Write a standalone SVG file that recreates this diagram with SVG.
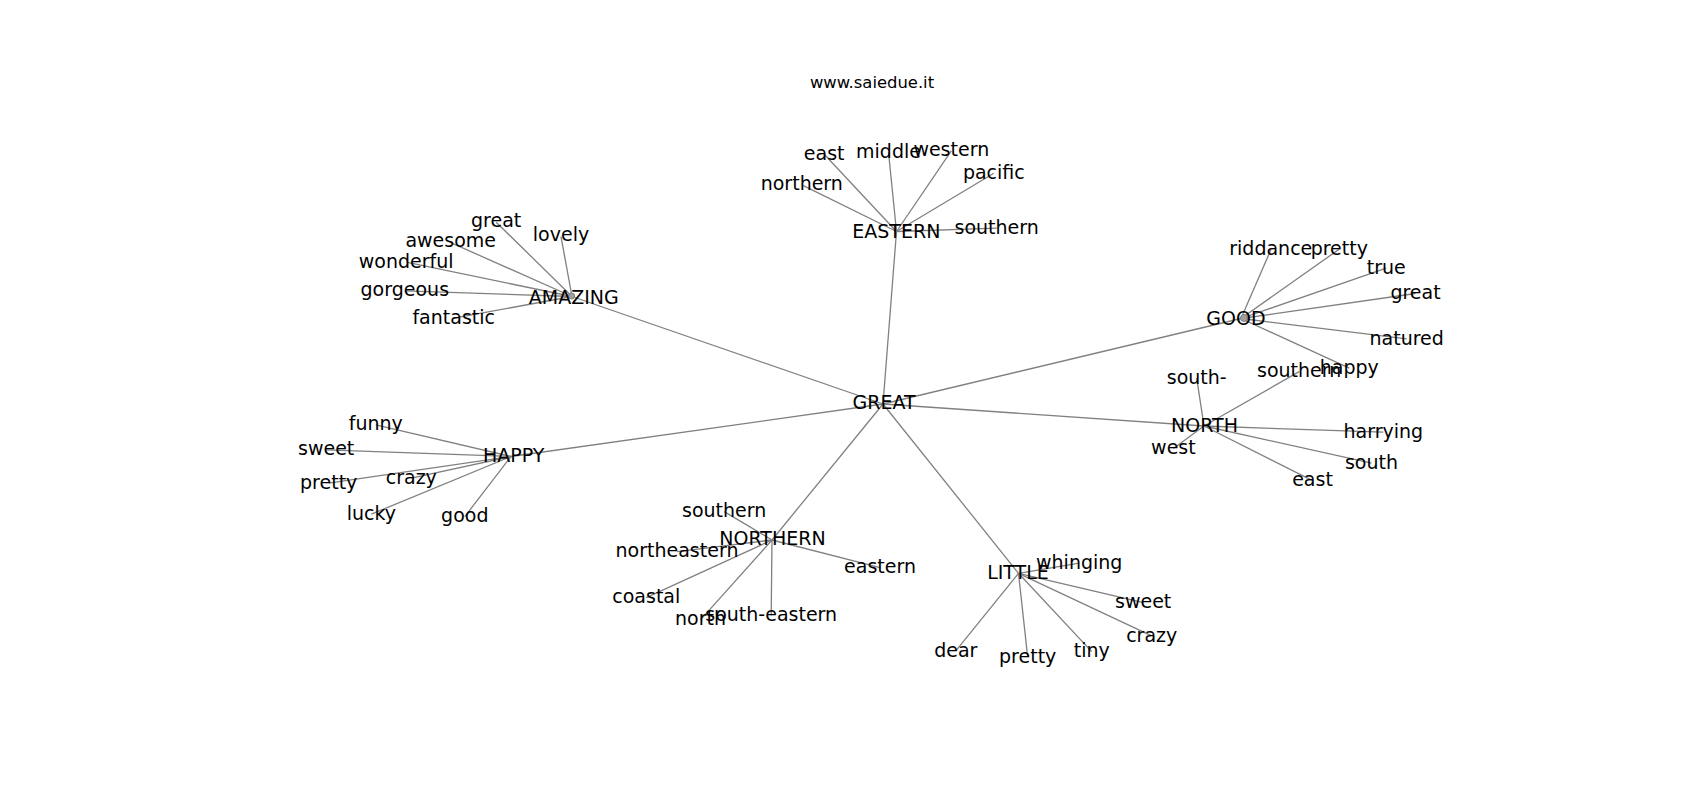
<svg xmlns="http://www.w3.org/2000/svg" width="1700" height="800" viewBox="0 0 1700 800">
<style>
text{font-family:"DejaVu Sans","Liberation Sans",sans-serif;font-size:19px;fill:#000;text-anchor:middle}
.title{font-size:16.4px}
#edges line{stroke:#808080;stroke-width:1.3}
.loop{fill:#a0a0a0;stroke:#808080;stroke-width:1}
</style>
<rect width="1700" height="800" fill="#fff"/>
<text class="title" x="872" y="88">www.saiedue.it</text>
<g id="edges">
<line x1="883" y1="404" x2="896.5" y2="231.5"/>
<line x1="883" y1="404" x2="572" y2="296.5"/>
<line x1="883" y1="404" x2="1241" y2="318.5"/>
<line x1="883" y1="404" x2="1204" y2="426"/>
<line x1="883" y1="404" x2="511" y2="456.5"/>
<line x1="883" y1="404" x2="772" y2="540"/>
<line x1="883" y1="404" x2="1018.5" y2="573.3"/>
<line x1="896.5" y1="231.5" x2="824.2" y2="154.2"/>
<line x1="896.5" y1="231.5" x2="888.5" y2="152.2"/>
<line x1="896.5" y1="231.5" x2="951.3" y2="150.9"/>
<line x1="896.5" y1="231.5" x2="801.8" y2="184.9"/>
<line x1="896.5" y1="231.5" x2="993.8" y2="173.2"/>
<line x1="896.5" y1="231.5" x2="996.7" y2="228.2"/>
<line x1="572" y1="296.5" x2="496.2" y2="222.2"/>
<line x1="572" y1="296.5" x2="561" y2="236.6"/>
<line x1="572" y1="296.5" x2="450.7" y2="242.6"/>
<line x1="572" y1="296.5" x2="406.2" y2="262.2"/>
<line x1="572" y1="296.5" x2="404.8" y2="290.9"/>
<line x1="572" y1="296.5" x2="453.7" y2="318.2"/>
<line x1="1241" y1="318.5" x2="1270.8" y2="249.9"/>
<line x1="1241" y1="318.5" x2="1339.3" y2="249.1"/>
<line x1="1241" y1="318.5" x2="1386.2" y2="268.2"/>
<line x1="1241" y1="318.5" x2="1415.5" y2="293.5"/>
<line x1="1241" y1="318.5" x2="1406.7" y2="338.9"/>
<line x1="1241" y1="318.5" x2="1349.3" y2="368.2"/>
<line x1="1204" y1="426" x2="1196.7" y2="378.2"/>
<line x1="1204" y1="426" x2="1299.2" y2="371.6"/>
<line x1="1204" y1="426" x2="1173.4" y2="448.6"/>
<line x1="1204" y1="426" x2="1383.3" y2="432.2"/>
<line x1="1204" y1="426" x2="1371.5" y2="463.2"/>
<line x1="1204" y1="426" x2="1312.5" y2="480.6"/>
<line x1="511" y1="456.5" x2="375.8" y2="424.9"/>
<line x1="511" y1="456.5" x2="326.2" y2="449.9"/>
<line x1="511" y1="456.5" x2="328.7" y2="483.2"/>
<line x1="511" y1="456.5" x2="411.3" y2="478.2"/>
<line x1="511" y1="456.5" x2="371.3" y2="514.2"/>
<line x1="511" y1="456.5" x2="464.8" y2="516.6"/>
<line x1="772" y1="540" x2="724.2" y2="511.6"/>
<line x1="772" y1="540" x2="677" y2="551.6"/>
<line x1="772" y1="540" x2="880" y2="567.6"/>
<line x1="772" y1="540" x2="646.3" y2="597.6"/>
<line x1="772" y1="540" x2="700.5" y2="619.9"/>
<line x1="772" y1="540" x2="771.2" y2="615.6"/>
<line x1="1018.5" y1="573.3" x2="1079.2" y2="563.2"/>
<line x1="1018.5" y1="573.3" x2="1143.2" y2="602.6"/>
<line x1="1018.5" y1="573.3" x2="1151.7" y2="635.9"/>
<line x1="1018.5" y1="573.3" x2="955.8" y2="650.9"/>
<line x1="1018.5" y1="573.3" x2="1027.7" y2="657.2"/>
<line x1="1018.5" y1="573.3" x2="1091.7" y2="651.6"/>
<circle class="loop" cx="1244" cy="318" r="3.5"/>
<circle class="loop" cx="571.7" cy="296" r="3"/>
</g>
<g id="GREAT"><text x="884" y="408.6">GREAT</text></g>
<g id="EASTERN"><text x="896.3" y="237.6">EASTERN</text></g>
<g id="AMAZING"><text x="573.8" y="304.3">AMAZING</text></g>
<g id="GOOD"><text x="1236" y="324.6">GOOD</text></g>
<g id="NORTH"><text x="1204.5" y="431.8">NORTH</text></g>
<g id="HAPPY"><text x="513.7" y="462">HAPPY</text></g>
<g id="NORTHERN"><text x="772.5" y="545.3">NORTHERN</text></g>
<g id="LITTLE"><text x="1018" y="578.6">LITTLE</text></g>
<g id="eastern-east"><text x="824.2" y="159.6">east</text></g>
<g id="eastern-middle"><text x="888.5" y="157.6">middle</text></g>
<g id="eastern-western"><text x="951.3" y="156.3">western</text></g>
<g id="eastern-northern"><text x="801.8" y="190.3">northern</text></g>
<g id="eastern-pacific"><text x="993.8" y="178.6">pacific</text></g>
<g id="eastern-southern"><text x="996.7" y="233.6">southern</text></g>
<g id="amazing-great"><text x="496.2" y="227.3">great</text></g>
<g id="amazing-lovely"><text x="561" y="241.3">lovely</text></g>
<g id="amazing-awesome"><text x="450.7" y="247">awesome</text></g>
<g id="amazing-wonderful"><text x="406.2" y="267.6">wonderful</text></g>
<g id="amazing-gorgeous"><text x="404.8" y="296.3">gorgeous</text></g>
<g id="amazing-fantastic"><text x="453.7" y="323.6">fantastic</text></g>
<g id="good-riddance"><text x="1270.8" y="255.3">riddance</text></g>
<g id="good-pretty"><text x="1339.3" y="254.5">pretty</text></g>
<g id="good-true"><text x="1386.2" y="273.8">true</text></g>
<g id="good-great"><text x="1415.5" y="299">great</text></g>
<g id="good-natured"><text x="1406.7" y="344.6">natured</text></g>
<g id="good-happy"><text x="1349.3" y="373.6">happy</text></g>
<g id="north-south-"><text x="1196.7" y="383.6">south-</text></g>
<g id="north-southern"><text x="1299.2" y="377">southern</text></g>
<g id="north-west"><text x="1173.4" y="454">west</text></g>
<g id="north-harrying"><text x="1383.3" y="437.8">harrying</text></g>
<g id="north-south"><text x="1371.5" y="468.8">south</text></g>
<g id="north-east"><text x="1312.5" y="486">east</text></g>
<g id="happy-funny"><text x="375.8" y="430.3">funny</text></g>
<g id="happy-sweet"><text x="326.2" y="455.3">sweet</text></g>
<g id="happy-pretty"><text x="328.7" y="488.8">pretty</text></g>
<g id="happy-crazy"><text x="411.3" y="483.8">crazy</text></g>
<g id="happy-lucky"><text x="371.3" y="519.8">lucky</text></g>
<g id="happy-good"><text x="464.8" y="522.2">good</text></g>
<g id="northern-southern"><text x="724.2" y="517">southern</text></g>
<g id="northern-northeastern"><text x="677" y="557">northeastern</text></g>
<g id="northern-eastern"><text x="880" y="573">eastern</text></g>
<g id="northern-coastal"><text x="646.3" y="603">coastal</text></g>
<g id="northern-north"><text x="700.5" y="625.3">north</text></g>
<g id="northern-south-eastern"><text x="771.2" y="621">south-eastern</text></g>
<g id="little-whinging"><text x="1079.2" y="568.6">whinging</text></g>
<g id="little-sweet"><text x="1143.2" y="608">sweet</text></g>
<g id="little-crazy"><text x="1151.7" y="641.5">crazy</text></g>
<g id="little-dear"><text x="955.8" y="656.5">dear</text></g>
<g id="little-pretty"><text x="1027.7" y="662.6">pretty</text></g>
<g id="little-tiny"><text x="1091.7" y="657">tiny</text></g>
</svg>
